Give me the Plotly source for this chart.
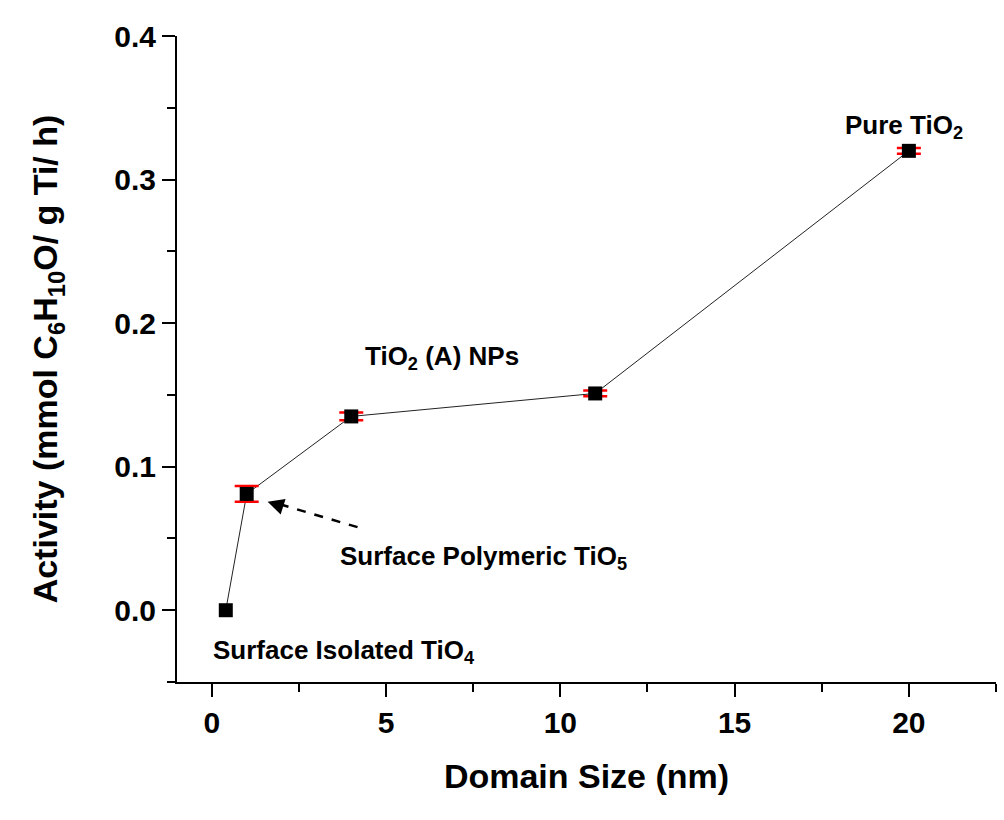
import plotly.graph_objects as go

# Data
domain_size = [0.4, 1, 4, 11, 20]
activity = [0.0, 0.081, 0.135, 0.151, 0.320]
activity_err = [0.0, 0.0055, 0.0027, 0.002, 0.002]

x_ticks = [0, 5, 10, 15, 20]
y_ticks = [0.0, 0.1, 0.2, 0.3, 0.4]
y_ticklabels = ["0.0", "0.1", "0.2", "0.3", "0.4"]

FONT = "Liberation Sans, Arial, sans-serif"

# points that carry error bars (non-zero error)
err_idx = [i for i, e in enumerate(activity_err) if e > 0]

fig = go.Figure()
fig.add_trace(go.Scatter(
    x=domain_size, y=activity,
    mode="lines",
    line=dict(color="#222222", width=1),
    showlegend=False,
))
fig.add_trace(go.Scatter(
    x=[domain_size[i] for i in err_idx], y=[activity[i] for i in err_idx],
    mode="markers",
    marker=dict(symbol="square", size=14, color="rgba(0,0,0,0)"),
    error_y=dict(type="data", array=[activity_err[i] for i in err_idx], visible=True,
                 color="red", thickness=2.5, width=12),
    showlegend=False,
))
fig.add_trace(go.Scatter(
    x=domain_size, y=activity,
    mode="markers",
    marker=dict(symbol="square", size=14, color="black"),
    showlegend=False,
))

# Dashed arrow shaft
fig.add_shape(type="line", x0=1.95, y0=0.0738, x1=4.3, y1=0.057,
              xref="x", yref="y",
              line=dict(color="black", width=2.5, dash="dash"))

annos = [
    dict(x=19.85, y=0.337, text="Pure TiO<sub>2</sub>"),
    dict(x=6.6, y=0.176, text="TiO<sub>2</sub> (A) NPs"),
    dict(x=7.8, y=0.037, text="Surface Polymeric TiO<sub>5</sub>"),
    dict(x=3.8, y=-0.029, text="Surface Isolated TiO<sub>4</sub>"),
]
for a in annos:
    fig.add_annotation(x=a["x"], y=a["y"], text=a["text"], showarrow=False,
                       xref="x", yref="y",
                       font=dict(family=FONT, size=26, color="black", weight="bold"))

# Arrow head
fig.add_annotation(x=1.6, y=0.0755, ax=16, ay=5, xref="x", yref="y",
                   axref="pixel", ayref="pixel", text="", showarrow=True,
                   arrowhead=2, arrowsize=1.3, arrowwidth=2.5, arrowcolor="black")

fig.update_xaxes(
    range=[-1, 22.5], tickvals=x_ticks, ticks="outside", ticklen=13, tickwidth=2,
    tickcolor="black", showline=True, linecolor="black", linewidth=2,
    showgrid=False, zeroline=False,
    minor=dict(dtick=2.5, tick0=0, ticks="outside", ticklen=8, tickwidth=2, tickcolor="black"),
    tickfont=dict(family=FONT, size=30, color="black", weight="bold"),
    title=dict(text="Domain Size (nm)", standoff=26,
               font=dict(family=FONT, size=34, color="black", weight="bold")),
)
fig.update_yaxes(
    range=[-0.05, 0.4], tickvals=y_ticks, ticktext=y_ticklabels, ticks="outside",
    ticklen=13, tickwidth=2, tickcolor="black", showline=True, linecolor="black",
    linewidth=2, showgrid=False, zeroline=False,
    minor=dict(dtick=0.05, tick0=0, ticks="outside", ticklen=8, tickwidth=2, tickcolor="black"),
    tickfont=dict(family=FONT, size=30, color="black", weight="bold"),
    title=dict(text="Activity (mmol C<sub>6</sub>H<sub>10</sub>O/ g Ti/ h)", standoff=46,
               font=dict(family=FONT, size=34, color="black", weight="bold")),
)

fig.update_layout(
    width=1004, height=820,
    margin=dict(l=177, r=8, t=36, b=138),
    paper_bgcolor="white", plot_bgcolor="white",
)

fig.write_html("out.html")
